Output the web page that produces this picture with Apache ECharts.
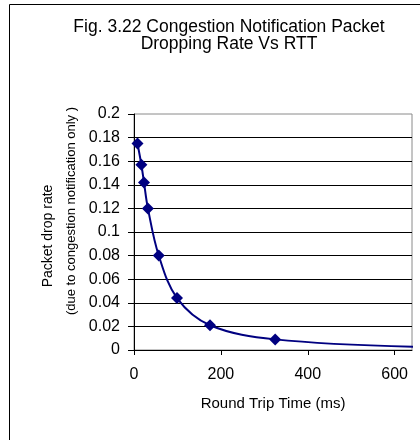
<!DOCTYPE html>
<html>
<head>
<meta charset="utf-8">
<script src="https://cdn.jsdelivr.net/npm/echarts@6/dist/echarts.min.js"></script>
<style>
  html, body { margin: 0; padding: 0; background: #fff; overflow: hidden; }
  #chart { position: absolute; left: 0; top: 0; width: 458px; height: 470px; }
</style>
</head>
<body>
<div id="chart"></div>
<script>
// Round trip time (ms) and the packet drop rate caused by congestion notification
const rttMs    = [8, 17, 23, 32, 57, 99, 175, 325, 660];
const dropRate = [0.175, 0.157, 0.142, 0.120, 0.080, 0.044, 0.021, 0.009, 0.0025];
// last sample lies past the visible x range; only the curve reaches the edge
const markerShown = [true, true, true, true, true, true, true, true, false];

const xTicks = [0, 200, 400, 600];
const xMax = 640;
const yMax = 0.2;
const yStep = 0.02;

const titleText = 'Fig. 3.22 Congestion Notification Packet\nDropping Rate Vs RTT';
const xName = 'Round Trip Time (ms)';
const yNameLine1 = 'Packet drop rate';
const yNameLine2 = '(due to congestion notification only )';

const FONT = '"Liberation Sans", Arial, Helvetica, sans-serif';

const points = rttMs.map((x, i) => ({
  value: [x, dropRate[i]],
  symbol: markerShown[i] ? 'diamond' : 'none'
}));

const chart = echarts.init(document.getElementById('chart'), null, { renderer: 'canvas' });

chart.setOption({
  backgroundColor: '#ffffff',
  animation: false,
  title: {
    text: titleText,
    left: 'center',
    top: 18,
    padding: 0,
    textStyle: {
      fontFamily: FONT,
      fontSize: 17.5,
      fontWeight: 'normal',
      color: '#000',
      lineHeight: 17.5
    }
  },
  graphic: [
    {
      type: 'rect',
      shape: { x: 9.5, y: 4.5, width: 440, height: 460 },
      style: { fill: 'none', stroke: '#000', lineWidth: 1 },
      silent: true
    },
    {
      type: 'text',
      x: 48, y: 236, rotation: Math.PI / 2,
      style: {
        text: yNameLine1, fontFamily: FONT, fontSize: 14, fill: '#000',
        align: 'center', verticalAlign: 'middle'
      }
    },
    {
      type: 'text',
      x: 71, y: 211, rotation: Math.PI / 2,
      style: {
        text: yNameLine2, fontFamily: FONT, fontSize: 13, fill: '#000',
        align: 'center', verticalAlign: 'middle'
      }
    }
  ],
  grid: {
    left: 134, top: 114, width: 278, height: 236,
    show: true, borderColor: '#8a8a8a', borderWidth: 1,
    backgroundColor: 'transparent',
    containLabel: false
  },
  xAxis: {
    type: 'value',
    min: 0, max: xMax, interval: 200,
    name: xName,
    nameLocation: 'middle',
    nameGap: 46,
    nameTextStyle: { fontFamily: FONT, fontSize: 15, color: '#000' },
    axisLine: { show: true, onZero: false, lineStyle: { color: '#000', width: 1 } },
    axisTick: { show: true, inside: false, length: 5, customValues: xTicks, lineStyle: { color: '#000' } },
    axisLabel: {
      customValues: xTicks,
      margin: 17,
      fontFamily: FONT, fontSize: 16, color: '#000'
    },
    splitLine: { show: false }
  },
  yAxis: {
    type: 'value',
    min: 0, max: yMax, interval: yStep,
    axisLine: { show: true, onZero: false, lineStyle: { color: '#000', width: 1 } },
    axisTick: { show: true, inside: false, length: 6, lineStyle: { color: '#000' } },
    axisLabel: {
      margin: 14,
      fontFamily: FONT, fontSize: 16, color: '#000'
    },
    splitLine: { show: true, showMaxLine: false, lineStyle: { color: '#000', width: 1 } }
  },
  series: [{
    type: 'line',
    data: points,
    smooth: 0.35,
    clip: true,
    symbolSize: 12,
    showAllSymbol: true,
    lineStyle: { color: '#000080', width: 2 },
    itemStyle: { color: '#000080' }
  }]
});
</script>
</body>
</html>
